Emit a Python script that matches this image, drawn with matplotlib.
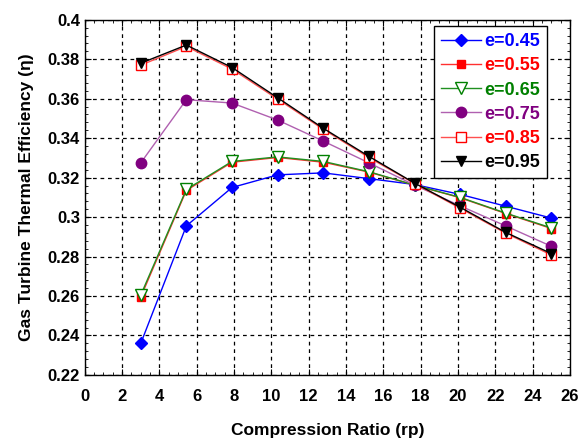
import matplotlib.pyplot as plt
from matplotlib.ticker import MultipleLocator

plt.rcParams['font.family'] = ['Liberation Sans', 'DejaVu Sans']
plt.rcParams['font.weight'] = 'bold'

rp = [3, 5.44, 7.89, 10.33, 12.78, 15.22, 17.67, 20.11, 22.56, 25]

eff_045 = [0.236, 0.2955, 0.315, 0.3214, 0.3224, 0.3195, 0.3165, 0.3115, 0.3055, 0.2995]
eff_055 = [0.2595, 0.3135, 0.3278, 0.3302, 0.3278, 0.3228, 0.3162, 0.3098, 0.3018, 0.2942]
eff_065 = [0.2605, 0.3140, 0.3282, 0.3305, 0.3282, 0.3230, 0.3162, 0.3100, 0.3020, 0.2945]
eff_075 = [0.3275, 0.3595, 0.3578, 0.3492, 0.3385, 0.3275, 0.3162, 0.3057, 0.2955, 0.2852]
eff_085 = [0.3770, 0.3865, 0.3750, 0.3598, 0.3445, 0.3302, 0.3170, 0.3045, 0.2918, 0.2808]
eff_095 = [0.3780, 0.3872, 0.3758, 0.3605, 0.3450, 0.3308, 0.3172, 0.3050, 0.2922, 0.2815]

labels = ['e=0.45', 'e=0.55', 'e=0.65', 'e=0.75', 'e=0.85', 'e=0.95']
colors = ['#0000ff', '#ff0000', '#008000', '#800080', '#ff0000', '#000000']
series = [eff_045, eff_055, eff_065, eff_075, eff_085, eff_095]
markers = ['D', 's', 'v', 'o', 's', 'v']
faces = ['#0000ff', '#ff0000', 'white', '#800080', 'white', '#000000']
msizes = [6.5, 6, 8, 7.5, 7, 7]
lcolors = ['#0000ff', '#ff3030', '#209020', '#b060b0', '#ff5050', '#000000']

fig = plt.figure(figsize=(5.81, 4.4), dpi=100)
ax = fig.add_axes([0.146, 0.148, 0.835, 0.807])

for y, lab, c, lc, m, fc, ms in zip(series, labels, colors, lcolors, markers, faces, msizes):
    ax.plot(rp, y, color=lc, lw=1, marker=m, markersize=ms,
            markerfacecolor=fc, markeredgecolor=c, markeredgewidth=1, label=lab)

ax.set_xlim(0, 26)
ax.set_ylim(0.22, 0.4)
ax.xaxis.set_major_locator(MultipleLocator(2))
ax.xaxis.set_minor_locator(MultipleLocator(0.5))
ax.yaxis.set_minor_locator(MultipleLocator(0.004))
ax.set_yticks([0.22, 0.24, 0.26, 0.28, 0.3, 0.32, 0.34, 0.36, 0.38, 0.4])
ax.set_yticklabels(['0.22', '0.24', '0.26', '0.28', '0.3', '0.32', '0.34', '0.36', '0.38', '0.4'])
ax.tick_params(which='both', direction='in', top=True, right=True, labelsize=12)
ax.tick_params(axis='x', which='major', pad=10)
ax.tick_params(which='major', length=4)
ax.tick_params(which='minor', length=2)
ax.grid(True, which='major', color='black', linestyle=(0, (3, 3)), lw=0.9)
for s in ax.spines.values():
    s.set_linewidth(1)

ax.set_xlabel('Compression Ratio (rp)', fontsize=12.5, fontweight='bold', labelpad=14)
ax.set_ylabel('Gas Turbine Thermal Efficiency (\u03b7)', fontsize=12.5, fontweight='bold', labelpad=10)

leg = ax.legend(loc='upper right', bbox_to_anchor=(0.953, 0.983), fontsize=13,
                frameon=True, fancybox=False, framealpha=1, edgecolor='black',
                borderaxespad=0, handlelength=2.2, handletextpad=0.2,
                labelspacing=0.4, borderpad=0.4)
leg.get_frame().set_linewidth(1)
for t, c in zip(leg.get_texts(), colors):
    t.set_color(c)
    t.set_fontweight('bold')

fig.savefig('out.png', dpi=100)
